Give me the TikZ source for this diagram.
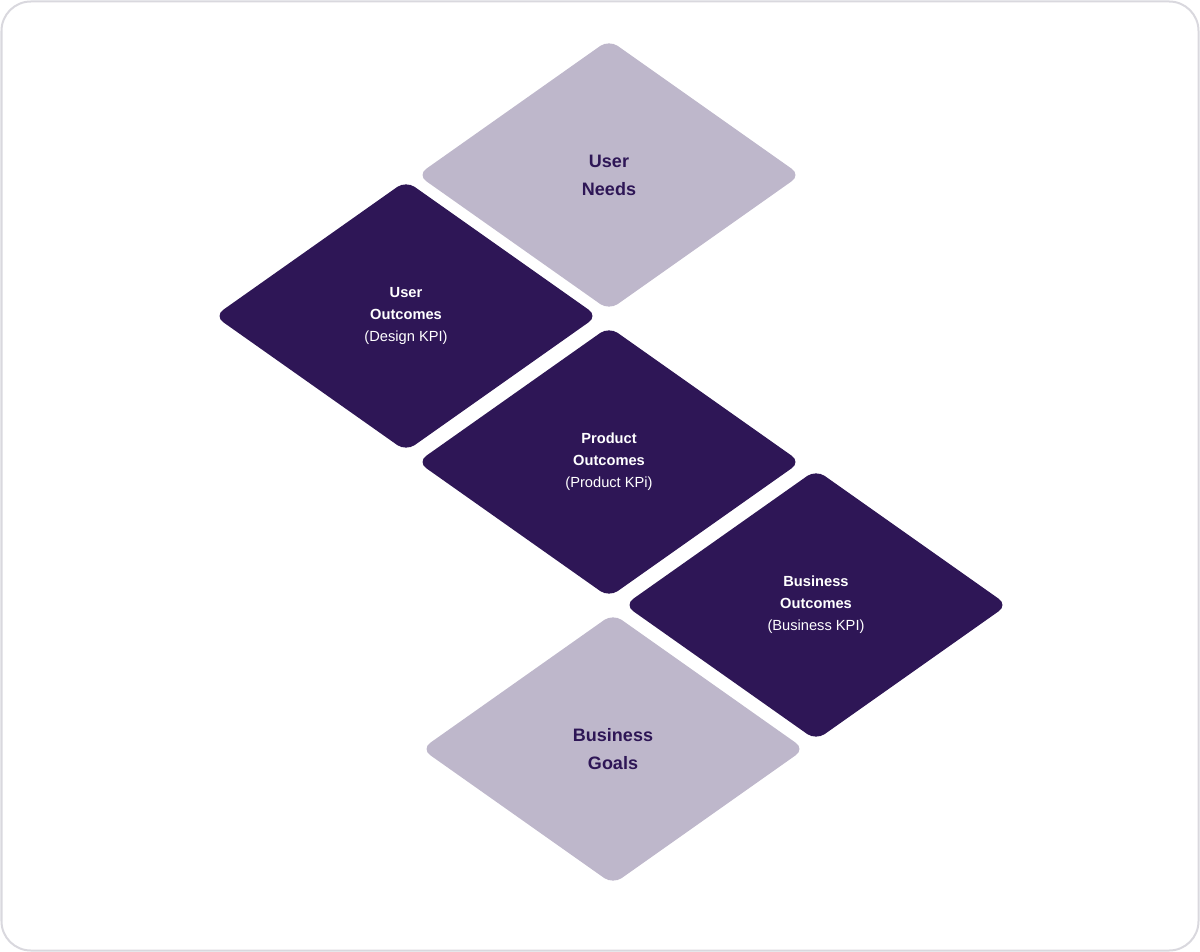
\documentclass[tikz,border=0pt]{standalone}
\usepackage{fontspec}
\setmainfont{Liberation Sans}
\usetikzlibrary{shapes.geometric}
\definecolor{deepplum}{HTML}{2E1656}
\definecolor{paleplum}{HTML}{BEB7CB}
\definecolor{framegray}{HTML}{D9D8DE}
\tikzset{
  tile/.style={diamond, rounded corners=8pt, inner sep=0pt, minimum width=287.5pt, minimum height=203pt, align=center},
  goal/.style={tile, fill=paleplum, text=deepplum, font=\bfseries\fontsize{13.5}{21}\selectfont},
  result/.style={tile, fill=deepplum, text=white, font=\fontsize{11}{16.5}\selectfont},
}
\begin{document}
\begin{tikzpicture}[x=0.75pt, y=-0.75pt]
        \useasboundingbox (0,0) rectangle (1200,952);
        % Frame
        \draw[framegray, line width=1.5pt, rounded corners=22pt] (1.5,1.5) rectangle (1198.5,950.5);

        % Define tiles
        \node at (609,175) (needs) [goal] {User\\Needs};
        \node at (406,316) (useroc) [result] {\textbf{User}\\\textbf{Outcomes}\\(Design KPI)};
        \node at (609,462) (prodoc) [result] {\textbf{Product}\\\textbf{Outcomes}\\(Product KPi)};
        \node at (816,605) (busoc) [result] {\textbf{Business}\\\textbf{Outcomes}\\(Business KPI)};
        \node at (613,749) (goals) [goal] {Business\\Goals};
\end{tikzpicture}
\end{document}
